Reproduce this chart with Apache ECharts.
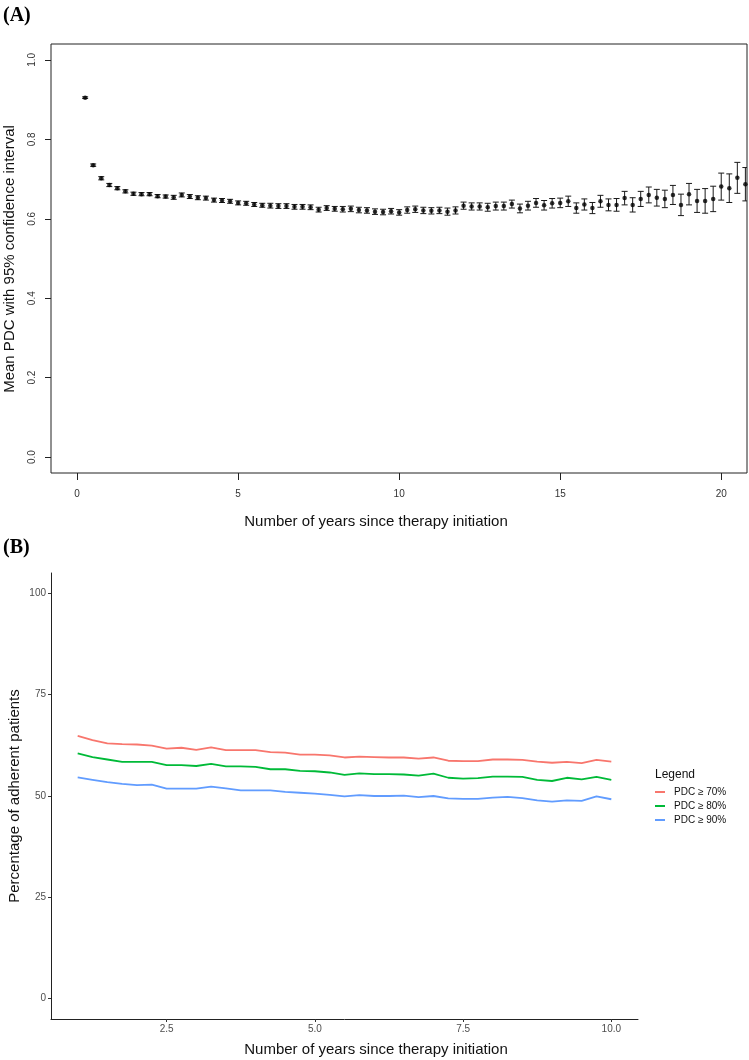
<!DOCTYPE html>
<html>
<head>
<meta charset="utf-8">
<script src="https://cdn.jsdelivr.net/npm/echarts@6/dist/echarts.min.js"></script>
<style>
html,body{margin:0;padding:0;background:#fff;}
#chart{width:749px;height:1060px;}
</style>
</head>
<body>
<div id="chart"></div>
<script>
// ---------- Panel A: mean PDC with 95% CI ----------
const yearsA = [0.25,0.5,0.75,1,1.25,1.5,1.75,2,2.25,2.5,2.75,3,3.25,3.5,3.75,4,4.25,4.5,4.75,5,
  5.25,5.5,5.75,6,6.25,6.5,6.75,7,7.25,7.5,7.75,8,8.25,8.5,8.75,9,9.25,9.5,9.75,10,
  10.25,10.5,10.75,11,11.25,11.5,11.75,12,12.25,12.5,12.75,13,13.25,13.5,13.75,14,14.25,14.5,14.75,15,
  15.25,15.5,15.75,16,16.25,16.5,16.75,17,17.25,17.5,17.75,18,18.25,18.5,18.75,19,19.25,19.5,19.75,20,
  20.25,20.5,20.75];
const meanPDC = [0.905,0.735,0.702,0.685,0.677,0.669,0.663,0.662,0.662,0.657,0.656,0.654,0.660,0.656,0.653,0.652,0.647,0.646,0.644,0.640,
  0.639,0.636,0.634,0.633,0.632,0.632,0.630,0.630,0.629,0.623,0.627,0.625,0.624,0.625,0.622,0.621,0.618,0.617,0.619,0.616,
  0.622,0.624,0.621,0.620,0.621,0.618,0.621,0.633,0.631,0.631,0.629,0.632,0.632,0.637,0.626,0.633,0.640,0.634,0.639,0.640,
  0.644,0.627,0.636,0.627,0.644,0.635,0.635,0.652,0.635,0.650,0.660,0.653,0.650,0.660,0.635,0.662,0.645,0.645,0.650,0.681,
  0.677,0.703,0.687];
const ciHalf = [0.002,0.003,0.004,0.004,0.004,0.004,0.004,0.004,0.004,0.004,0.004,0.005,0.005,0.005,0.005,0.005,0.005,0.005,0.005,0.005,
  0.005,0.005,0.005,0.006,0.006,0.006,0.006,0.006,0.006,0.006,0.006,0.006,0.007,0.007,0.007,0.007,0.007,0.007,0.007,0.007,
  0.008,0.008,0.008,0.008,0.008,0.009,0.009,0.009,0.009,0.009,0.010,0.010,0.010,0.010,0.011,0.011,0.011,0.012,0.012,0.012,
  0.013,0.013,0.014,0.014,0.015,0.015,0.016,0.017,0.018,0.019,0.020,0.021,0.022,0.024,0.027,0.027,0.029,0.031,0.032,0.034,
  0.036,0.039,0.042];
const ticksAX = [0,5,10,15,20];
const ticksAY = [0,0.2,0.4,0.6,0.8,1.0];

// ---------- Panel B: percentage of adherent patients ----------
const yearsB = [1,1.25,1.5,1.75,2,2.25,2.5,2.75,3,3.25,3.5,3.75,4,4.25,4.5,4.75,5,5.25,5.5,5.75,
  6,6.25,6.5,6.75,7,7.25,7.5,7.75,8,8.25,8.5,8.75,9,9.25,9.5,9.75,10];
const pdc70 = [64.8,63.8,63.0,62.8,62.7,62.4,61.7,61.9,61.4,62.0,61.3,61.3,61.3,60.8,60.7,60.2,60.2,60.0,59.5,59.7,
  59.6,59.5,59.5,59.2,59.5,58.7,58.6,58.6,59.0,59.0,58.9,58.5,58.2,58.4,58.1,58.9,58.5];
const pdc80 = [60.5,59.6,59.0,58.4,58.4,58.4,57.6,57.6,57.4,57.9,57.3,57.3,57.2,56.6,56.6,56.2,56.1,55.8,55.2,55.6,
  55.4,55.4,55.3,55.0,55.5,54.5,54.3,54.4,54.8,54.8,54.7,54.0,53.7,54.5,54.1,54.7,54.0];
const pdc90 = [54.6,54.0,53.4,53.0,52.7,52.8,51.8,51.8,51.8,52.3,51.9,51.4,51.4,51.4,51.0,50.8,50.6,50.3,49.9,50.2,
  50.0,50.0,50.1,49.7,50.0,49.4,49.3,49.3,49.6,49.8,49.5,48.9,48.6,48.9,48.8,49.9,49.2];
const seriesNamesB = ['PDC ≥ 70%','PDC ≥ 80%','PDC ≥ 90%'];
const ticksBX = [2.5,5,7.5,10];
const ticksBY = [0,25,50,75,100];

const FONT = '"Liberation Sans", Arial, Helvetica, sans-serif';
const chart = echarts.init(document.getElementById('chart'), null, {renderer:'canvas'});

const ciData = yearsA.map((x,i)=>[x, meanPDC[i]-ciHalf[i], meanPDC[i]+ciHalf[i]]);
const ptData = yearsA.map((x,i)=>[x, meanPDC[i]]);

function line(x, y) { return x.map((v,i)=>[v, y[i]]); }

const option = {
  animation:false,
  backgroundColor:'#fff',
  grid:[
    {left:51, top:44, width:696, height:429, show:true, borderColor:'#222', borderWidth:1, backgroundColor:'transparent'},
    {left:51, top:573, width:587, height:446}
  ],
  xAxis:[
    {gridIndex:0, type:'value', min:-0.81, max:20.8, position:'bottom',
     axisLine:{show:false, onZero:false}, splitLine:{show:false},
     axisTick:{show:true, length:7, customValues:ticksAX, lineStyle:{color:'#222'}},
     axisLabel:{customValues:ticksAX, margin:16, fontSize:10, color:'#333', fontFamily:FONT}},
    {gridIndex:1, type:'value', min:0.55, max:10.45, position:'bottom',
     axisLine:{show:true, onZero:false, lineStyle:{color:'#222', width:1}}, splitLine:{show:false},
     axisTick:{show:true, length:3, customValues:ticksBX, lineStyle:{color:'#333'}},
     axisLabel:{customValues:ticksBX, margin:5, fontSize:10, color:'#4d4d4d', fontFamily:FONT,
       formatter:v=>v.toFixed(1)}}
  ],
  yAxis:[
    {gridIndex:0, type:'value', min:-0.04, max:1.04, position:'left',
     axisLine:{show:false, onZero:false}, splitLine:{show:false},
     axisTick:{show:true, length:6, customValues:ticksAY, lineStyle:{color:'#222'}},
     axisLabel:{customValues:ticksAY, rotate:90, margin:14, fontSize:10, color:'#333', fontFamily:FONT,
       formatter:v=>v.toFixed(1)}},
    {gridIndex:1, type:'value', min:-5, max:105, position:'left',
     axisLine:{show:true, onZero:false, lineStyle:{color:'#222', width:1}}, splitLine:{show:false},
     axisTick:{show:true, length:3, customValues:ticksBY, lineStyle:{color:'#333'}},
     axisLabel:{customValues:ticksBY, margin:5, fontSize:10, color:'#4d4d4d', fontFamily:FONT}}
  ],
  legend:{
    data:seriesNamesB, orient:'vertical', left:655, top:786, padding:0,
    icon:'rect', itemWidth:10, itemHeight:2, itemGap:2,
    textStyle:{fontSize:10, color:'#111', fontFamily:FONT, lineHeight:12, padding:[0,0,0,4]}
  },
  series:[
    {type:'custom', xAxisIndex:0, yAxisIndex:0, data:ciData, clip:true,
     renderItem:function(params, api){
       const x=api.value(0), lo=api.value(1), hi=api.value(2);
       const pTop=api.coord([x,hi]), pBot=api.coord([x,lo]);
       const w=3;
       const st={stroke:'#1a1a1a', lineWidth:1};
       return {type:'group', children:[
         {type:'line', shape:{x1:pTop[0],y1:pTop[1],x2:pBot[0],y2:pBot[1]}, style:st},
         {type:'line', shape:{x1:pTop[0]-w,y1:pTop[1],x2:pTop[0]+w,y2:pTop[1]}, style:st},
         {type:'line', shape:{x1:pBot[0]-w,y1:pBot[1],x2:pBot[0]+w,y2:pBot[1]}, style:st}
       ]};
     }},
    {type:'scatter', xAxisIndex:0, yAxisIndex:0, data:ptData, symbol:'circle', symbolSize:4.5,
     itemStyle:{color:'#000'}, clip:true},
    {name:seriesNamesB[0], type:'line', xAxisIndex:1, yAxisIndex:1, data:line(yearsB,pdc70),
     showSymbol:false, lineStyle:{color:'#F8766D', width:1.8}, itemStyle:{color:'#F8766D'}},
    {name:seriesNamesB[1], type:'line', xAxisIndex:1, yAxisIndex:1, data:line(yearsB,pdc80),
     showSymbol:false, lineStyle:{color:'#00BA38', width:1.8}, itemStyle:{color:'#00BA38'}},
    {name:seriesNamesB[2], type:'line', xAxisIndex:1, yAxisIndex:1, data:line(yearsB,pdc90),
     showSymbol:false, lineStyle:{color:'#619CFF', width:1.8}, itemStyle:{color:'#619CFF'}}
  ],
  graphic:[
    {type:'text', left:3, top:6, style:{text:'(A)', font:'bold 20px "Liberation Serif", "Times New Roman", serif', fill:'#000'}},
    {type:'text', left:3, top:538, style:{text:'(B)', font:'bold 20px "Liberation Serif", "Times New Roman", serif', fill:'#000'}},
    {type:'text', x:376, y:522, style:{text:'Number of years since therapy initiation', font:'15px '+FONT, fill:'#111', align:'center', verticalAlign:'middle'}},
    {type:'text', x:10, y:259, rotation:Math.PI/2, style:{text:'Mean PDC with 95% confidence interval', font:'15px '+FONT, fill:'#111', align:'center', verticalAlign:'middle'}},
    {type:'text', x:376, y:1050, style:{text:'Number of years since therapy initiation', font:'15px '+FONT, fill:'#111', align:'center', verticalAlign:'middle'}},
    {type:'text', x:15, y:796, rotation:Math.PI/2, style:{text:'Percentage of adherent patients', font:'15px '+FONT, fill:'#111', align:'center', verticalAlign:'middle'}},
    {type:'text', left:655, top:769, style:{text:'Legend', font:'12px '+FONT, fill:'#111'}}
  ]
};
chart.setOption(option);
</script>
</body>
</html>
